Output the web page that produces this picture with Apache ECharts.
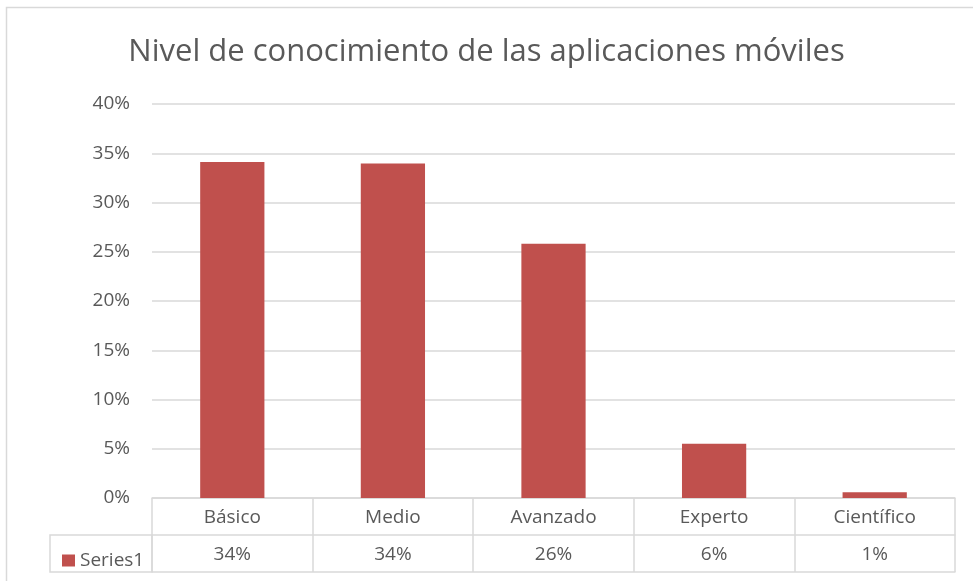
<!DOCTYPE html>
<html>
<head>
<meta charset="utf-8">
<script src="https://cdn.jsdelivr.net/npm/echarts@6/dist/echarts.min.js"></script>
<style>
  html, body { margin: 0; padding: 0; background: #fff; }
  #main { width: 973px; height: 581px; }
</style>
</head>
<body>
<div id="main"></div>
<script>
// data
var categories = ['Básico', 'Medio', 'Avanzado', 'Experto', 'Científico'];
var values = [34.1, 33.96, 25.8, 5.5, 0.58];
var seriesName = 'Series1';
var yTicks = { min: 0, max: 40, interval: 5 };

var textColor = '#595959';
var lineColor = '#d9d9d9';
var font = 'Open Sans';
var labelSize = 19;

// grid box (table rows sit under the axis)
var gridLeft = 152, gridRight = 18, gridTop = 104, gridBottom = 83;
var rowH = 37;
var axisY = 581 - gridBottom;

var tableLabels = values.map(function (v) { return Math.round(v) + '%'; });

var chart = echarts.init(document.getElementById('main'));

var option = {
  backgroundColor: '#fff',
  textStyle: { fontFamily: font },
  title: {
    text: 'Nivel de conocimiento de las aplicaciones móviles',
    left: 'center',
    top: 32,
    textStyle: { fontFamily: font, fontSize: 31, fontWeight: 'normal', color: textColor }
  },
  legend: {
    data: [seriesName],
    left: 57,
    top: axisY + rowH + 11,
    icon: 'rect',
    itemWidth: 13,
    itemHeight: 12,
    itemGap: 4,
    textStyle: { fontFamily: font, fontSize: labelSize, color: textColor, padding: [0, 0, 0, 0] }
  },
  grid: { left: gridLeft, right: gridRight, top: gridTop, bottom: gridBottom, containLabel: false },
  xAxis: [
    {
      type: 'category',
      data: categories,
      position: 'bottom',
      axisLine: { show: true, lineStyle: { color: lineColor, width: 1.5 } },
      axisTick: { show: true, length: rowH * 2, interval: 0, lineStyle: { color: lineColor, width: 1.5 } },
      axisLabel: { margin: 10, fontSize: labelSize, color: textColor, fontFamily: font },
      splitLine: { show: false }
    },
    {
      type: 'category',
      data: tableLabels,
      position: 'bottom',
      offset: rowH,
      axisLine: { show: true, lineStyle: { color: lineColor, width: 1.5 } },
      axisTick: { show: false },
      axisLabel: { margin: 10, fontSize: labelSize, color: textColor, fontFamily: font }
    },
    {
      type: 'category',
      data: tableLabels,
      position: 'bottom',
      offset: rowH * 2,
      axisLine: { show: true, lineStyle: { color: lineColor, width: 1.5 } },
      axisTick: { show: false },
      axisLabel: { show: false }
    }
  ],
  yAxis: {
    type: 'value',
    min: yTicks.min,
    max: yTicks.max,
    interval: yTicks.interval,
    axisLine: { show: false },
    axisTick: { show: false },
    axisLabel: { formatter: '{value}%', margin: 22, fontSize: labelSize, color: textColor, fontFamily: font },
    splitLine: { lineStyle: { color: lineColor, width: 1.5 } }
  },
  series: [
    {
      name: seriesName,
      type: 'bar',
      xAxisIndex: 0,
      data: values,
      barCategoryGap: '60%',
      itemStyle: { color: '#c0504d' }
    }
  ],
  graphic: [
    {
      type: 'rect',
      silent: true,
      shape: { x: 6.5, y: 7.5, width: 1000, height: 600 },
      style: { fill: 'none', stroke: lineColor, lineWidth: 1.5 }
    },
    {
      type: 'rect',
      silent: true,
      shape: { x: 50, y: axisY + rowH, width: gridLeft - 50, height: rowH },
      style: { fill: 'none', stroke: lineColor, lineWidth: 1.5 }
    }
  ]
};

option && chart.setOption(option);
</script>
</body>
</html>
